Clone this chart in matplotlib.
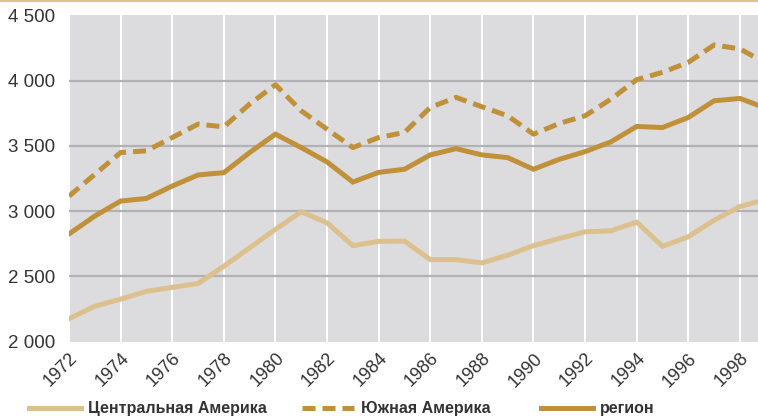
import matplotlib
matplotlib.use("Agg")
import matplotlib.pyplot as plt
from matplotlib.lines import Line2D

years = list(range(1972, 2000))
central_america = [2175, 2270, 2325, 2385, 2415, 2445, 2577, 2718, 2860, 2995,
                   2910, 2735, 2768, 2770, 2628, 2628, 2603, 2662, 2735, 2790,
                   2841, 2849, 2915, 2730, 2803, 2930, 3035, 3090]
south_america = [3115, 3282, 3449, 3462, 3564, 3667, 3646, 3821, 3969, 3769,
                 3628, 3487, 3564, 3603, 3795, 3872, 3800, 3731, 3590, 3672,
                 3731, 3859, 4008, 4064, 4141, 4274, 4244, 4135]
region = [2825, 2962, 3077, 3097, 3192, 3277, 3295, 3449, 3590, 3487,
          3377, 3223, 3297, 3321, 3431, 3479, 3431, 3410, 3321, 3397,
          3456, 3531, 3649, 3641, 3718, 3846, 3864, 3790]

y_ticks = [2000, 2500, 3000, 3500, 4000, 4500]
y_labels = ["2 000", "2 500", "3 000", "3 500", "4 000", "4 500"]
x_ticks = list(range(1972, 2000, 2))
series_labels = ["Центральная Америка", "Южная Америка", "регион"]

LIGHT = "#dcc08e"
DARK = "#c0913a"
TEXT = "#333333"
W, H = 758, 419

fig = plt.figure(figsize=(W / 100, H / 100), dpi=100)
ax = fig.add_axes([69 / W, 1 - 341.5 / H, 1 - 69 / W, (341.5 - 15.5) / H])
ax.set_facecolor("#dcdcde")

for yr in x_ticks:
    ax.axvline(yr, color="white", linewidth=1.4, zorder=1)
for v in y_ticks[1:-1]:
    ax.axhline(v, color="#b2b2b5", linewidth=1.6, zorder=1.5)

styles = [
    dict(color=LIGHT, linewidth=3.6, solid_joinstyle="miter"),
    dict(color=DARK, linewidth=3.6, dashes=(2.6, 1.4), dash_capstyle="butt"),
    dict(color=DARK, linewidth=3.6, solid_joinstyle="miter"),
]
for values, st in zip([central_america, south_america, region], styles):
    ax.plot(years, values, zorder=3, **st)

ax.set_xlim(1972, 1998.7)
ax.set_ylim(2000, 4500)
ax.set_yticks(y_ticks)
ax.set_yticklabels(y_labels, fontsize=13.5, color=TEXT, family="Liberation Sans")
ax.set_xticks(x_ticks)
ax.set_xticklabels([str(y) for y in x_ticks], rotation=45, ha="right",
                   rotation_mode="anchor", fontsize=13, color=TEXT,
                   family="Liberation Sans")
ax.tick_params(axis="both", length=0)
ax.tick_params(axis="y", pad=10)
ax.tick_params(axis="x", pad=6)
for s in ax.spines.values():
    s.set_visible(False)

# top border line
fig.add_artist(Line2D([0, 1], [1 - 0.8 / H, 1 - 0.8 / H], color="#dcc48e",
                      linewidth=1.5, transform=fig.transFigure))

# legend, laid out by hand
leg_y = 1 - 408 / H
handle_x = [29, 302, 541]
for x0, label, st in zip(handle_x, series_labels, styles):
    fig.add_artist(Line2D([x0 / W, (x0 + 52) / W], [leg_y, leg_y],
                          transform=fig.transFigure, **st))
    fig.text((x0 + 59) / W, leg_y, label, ha="left", va="center",
             fontsize=11.5, fontweight="bold", color=TEXT,
             family="Liberation Sans")

fig.savefig("out.png", dpi=100)
